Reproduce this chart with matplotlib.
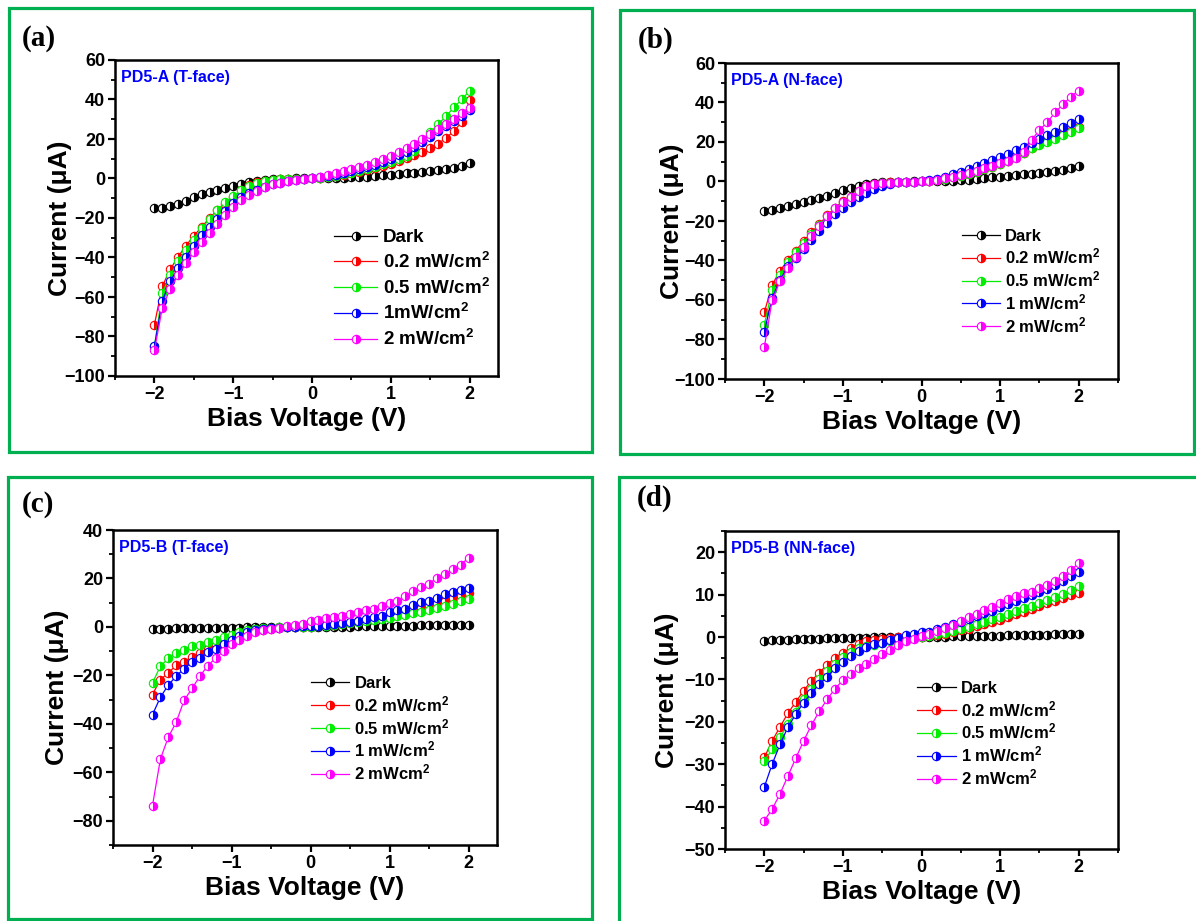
import matplotlib
matplotlib.use("Agg")
import matplotlib.pyplot as plt
from matplotlib.patches import Rectangle
from matplotlib.ticker import MultipleLocator

plt.rcParams['font.family'] = ['Liberation Sans', 'DejaVu Sans']
plt.rcParams['font.weight'] = 'bold'
plt.rcParams['axes.labelweight'] = 'bold'
plt.rcParams['mathtext.fontset'] = 'custom'
plt.rcParams['mathtext.bf'] = 'Liberation Sans:bold'
plt.rcParams['mathtext.rm'] = 'Liberation Sans:bold'
plt.rcParams['mathtext.default'] = 'bf'

# bias voltage sweep (V)
bias = [-2.0, -1.9, -1.8, -1.7, -1.6, -1.5, -1.4, -1.3, -1.2, -1.1, -1.0,
        -0.9, -0.8, -0.7, -0.6, -0.5, -0.4, -0.3, -0.2, -0.1, 0.0,
        0.1, 0.2, 0.3, 0.4, 0.5, 0.6, 0.7, 0.8, 0.9, 1.0,
        1.1, 1.2, 1.3, 1.4, 1.5, 1.6, 1.7, 1.8, 1.9, 2.0]

# (a) PD5-A T-face, current in uA
dark_a = [-15.0, -14.8, -13.9, -12.7, -11.2, -9.5, -8.0, -6.9, -5.9, -4.8, -3.7,
          -2.6, -1.7, -1.1, -0.7, -0.4, -0.2, -0.1, 0.0, 0.0, 0.0,
          0.1, 0.2, 0.3, 0.4, 0.6, 0.8, 1.0, 1.3, 1.6, 2.0,
          2.3, 2.6, 3.0, 3.3, 3.7, 4.1, 4.6, 5.2, 6.3, 7.6]
p02_a = [-74, -54.6, -46, -39.7, -34, -29, -24.5, -20, -16, -12.7, -9.3,
         -6, -3.4, -2, -1.4, -0.8, -0.5, -0.3, -0.2, -0.1, 0,
         0.5, 1, 1.5, 2, 2.6, 3.3, 4.2, 5.2, 6.3, 7.5,
         8.8, 10.2, 11.8, 13.5, 15.3, 17.5, 20.5, 24, 28.5, 39.5]
p05_a = [-85, -58, -49, -42, -36, -31, -25, -20.6, -16, -11.8, -9,
         -6, -3.7, -2.2, -1.3, -0.8, -0.5, -0.3, -0.2, -0.1, 0,
         0.4, 0.9, 1.5, 2.1, 2.8, 3.6, 4.6, 5.7, 7.1, 8.6,
         10, 11.5, 14, 19, 23.5, 27.5, 31.5, 36, 40, 44.5]
p1_a = [-85, -62, -52, -45.5, -39.7, -34, -28.7, -24.5, -20.6, -16.4, -12.3,
        -9.3, -7.3, -5.6, -4.2, -3, -2.2, -1.3, -0.8, -0.3, 0,
        0.6, 1.3, 2, 2.8, 3.7, 4.6, 5.7, 7, 8.4, 10,
        11.8, 13.6, 15.8, 18.3, 21, 23.8, 26.5, 29, 31.8, 34.5]
p2_a = [-87, -65.6, -55.8, -49, -42.8, -37, -32, -27.5, -22.8, -18.6, -14.4,
        -11, -8.5, -6.3, -4.2, -2.9, -2.2, -1.4, -0.8, -0.2, 0.3,
        1, 1.8, 2.7, 3.6, 4.6, 5.8, 7, 8.4, 10, 11.6,
        13.4, 15.3, 17.5, 20, 22.5, 25, 27.5, 30, 33, 35.5]

# (b) PD5-A N-face
dark_b = [-15, -14.3, -13.3, -12.3, -11.3, -10.3, -9.3, -8.2, -7.1, -6, -4.5,
          -3.2, -2.2, -1.4, -0.9, -0.5, -0.3, -0.2, -0.1, 0, 0,
          0.1, 0.2, 0.3, 0.5, 0.7, 1.0, 1.3, 1.7, 2.1, 2.5,
          2.9, 3.3, 3.7, 4.0, 4.4, 4.8, 5.3, 6.0, 7.0, 8.1]
p02_b = [-66.3, -52.3, -45.2, -39.8, -35, -30.2, -25.8, -21.6, -17.2, -13.2, -10,
         -7.6, -5, -2.5, -1.4, -0.8, -0.5, -0.3, -0.2, -0.1, 0,
         0.4, 0.9, 1.5, 2.2, 3, 3.9, 5, 6.2, 7.5, 9,
         10.6, 12.4, 14.5, 17, 19, 20.5, 22, 24, 25.8, 27.5]
p05_b = [-72.6, -54.8, -47.3, -41, -35.8, -31, -26.5, -22, -17.6, -13.6, -10.4,
         -7.8, -5.2, -2.8, -1.6, -1, -0.6, -0.4, -0.2, -0.1, 0,
         0.4, 0.9, 1.5, 2.2, 3, 3.9, 5, 6.2, 7.5, 9,
         10.6, 12.4, 14.4, 16.8, 18.6, 20, 21.6, 23.4, 25.3, 27]
p1_b = [-76, -59, -50, -43, -38.8, -34.3, -29.5, -25.3, -20.8, -16.5, -13.2,
        -10.5, -8.1, -5.9, -3.9, -2.5, -1.4, -0.5, -0.2, -0.1, 0,
        0.7, 1.5, 2.5, 3.6, 4.8, 6.3, 7.8, 9.3, 10.8, 12.3,
        14, 15.8, 17.7, 19.6, 21.3, 23.3, 25.3, 27.5, 29.8, 31.8]
p2_b = [-84, -60, -50.6, -44, -38.3, -33, -27.5, -22.4, -17.7, -13.5, -10.6,
        -7.6, -4.6, -2.5, -1.4, -0.8, -0.6, -0.3, -0.2, -0.1, 0,
        0.5, 1, 1.6, 2.3, 3.2, 4.2, 5.5, 6.8, 8, 9.4,
        10.5, 12, 15, 21, 26, 30, 35, 39, 43, 46]

# (c) PD5-B T-face
dark_c = [-0.8, -0.75, -0.7, -0.65, -0.6, -0.55, -0.5, -0.45, -0.4, -0.35, -0.3,
          -0.25, -0.2, -0.15, -0.1, -0.08, -0.05, -0.03, -0.02, -0.01, 0,
          0.02, 0.05, 0.08, 0.1, 0.15, 0.2, 0.25, 0.3, 0.35, 0.4,
          0.45, 0.5, 0.55, 0.6, 0.65, 0.7, 0.72, 0.75, 0.78, 0.8]
p02_c = [-27.9, -21.7, -19, -15.8, -14.4, -12.5, -10.7, -9.1, -7.3, -5.6, -3.9,
         -2.8, -1.8, -1.4, -1.1, -0.8, -0.4, -0.2, -0.1, 0, 0,
         0.3, 0.6, 1, 1.4, 1.8, 2.3, 2.8, 3.4, 4, 4.7,
         5.4, 6.2, 7, 7.9, 8.8, 9.8, 10.8, 11.8, 12.8, 13.8]
p05_c = [-23.1, -16.2, -13, -10.7, -9.6, -8, -7.3, -6.3, -5.2, -4.3, -3.2,
         -2.2, -1.4, -0.8, -0.5, -0.3, -0.2, -0.1, 0, 0, 0,
         0.2, 0.5, 0.8, 1.1, 1.5, 1.9, 2.3, 2.8, 3.3, 3.8,
         4.4, 5, 5.6, 6.3, 7, 7.8, 8.6, 9.6, 10.6, 11.5]
p1_c = [-36.2, -29, -24, -20.3, -17.2, -14.6, -12.8, -10.5, -9.1, -7, -5.2,
        -3.6, -2.2, -1.4, -0.8, -0.5, -0.3, -0.1, 0, 0.2, 0.3,
        0.5, 1, 1.2, 1.6, 1.9, 2.6, 3.4, 4, 4.7, 6,
        7.1, 7.6, 8.9, 10.4, 10.6, 12, 13.7, 14.3, 15.1, 16]
p2_c = [-73.7, -54.5, -45.5, -39.3, -30.3, -25.4, -20.3, -16, -12.8, -10, -7,
        -5.2, -3.6, -2.2, -1.4, -0.8, -0.4, 0.3, 1.0, 1.2, 2.3,
        3.0, 3.7, 4.1, 4.7, 5.5, 6.0, 7.1, 7.6, 8.5, 9.9,
        10.9, 12.7, 14.7, 16.5, 17.9, 20.2, 21.9, 23.7, 25.7, 28.5]

# (d) PD5-B NN-face
dark_d = [-0.9, -0.8, -0.7, -0.6, -0.55, -0.5, -0.45, -0.4, -0.35, -0.3, -0.25,
          -0.2, -0.2, -0.15, -0.1, -0.1, -0.05, -0.05, 0, 0, 0,
          0.05, 0.1, 0.1, 0.15, 0.2, 0.2, 0.25, 0.3, 0.3, 0.35,
          0.4, 0.4, 0.45, 0.5, 0.5, 0.55, 0.6, 0.65, 0.7, 0.8]
p02_d = [-28.4, -24.5, -21.2, -18, -15.3, -12.7, -10.3, -8.4, -6.5, -4.9, -3.7,
         -2.6, -1.7, -1, -0.6, -0.4, -0.2, 0, 0, 0, 0,
         0.2, 0.5, 0.8, 1.2, 1.6, 2, 2.5, 3, 3.5, 4.1,
         4.8, 5.4, 6, 6.7, 7.4, 8, 8.6, 9.2, 9.8, 10.4]
p05_d = [-29.2, -26.5, -23.7, -20.6, -17.6, -14.7, -12.2, -10, -8, -6.3, -4.7,
         -3.5, -2.7, -2.2, -2, -1.4, -1, -0.6, -0.4, -0.2, 0,
         0.3, 0.6, 1, 1.4, 1.9, 2.4, 3, 3.6, 4.2, 4.8,
         5.5, 6.1, 6.8, 7.4, 8, 8.7, 9.4, 10.2, 11, 12]
p1_d = [-35.4, -30, -25.3, -21.3, -18.2, -15.5, -13.2, -11.1, -9.4, -7.4, -5.9,
        -4.5, -3.3, -2.4, -1.6, -1.4, -0.8, -0.2, 0.4, 0.8, 1.2,
        1.2, 1.8, 2.4, 3, 3.6, 4.3, 5, 5.6, 6.2, 7,
        7.7, 8.5, 9.2, 9.9, 10.6, 11.4, 12.2, 13.2, 14.3, 15.4]
p2_d = [-43.3, -40.6, -37, -32.8, -28.6, -24.5, -20.8, -17.5, -14.7, -12.2, -10.2,
        -8.8, -7.4, -6.3, -5.1, -4.1, -3, -2, -1, -0.4, 0.2,
        0.8, 1.4, 2.2, 2.9, 3.7, 4.7, 5.5, 6.3, 7.1, 8,
        8.9, 9.6, 10.4, 10.7, 11.6, 12.3, 13.3, 14.5, 15.8, 17.4]

cm2 = r'mW/cm$^{2}$'
labels_a = ['Dark', '0.2 ' + cm2, '0.5 ' + cm2, '1' + cm2, '2 ' + cm2]
labels_b = ['Dark', '0.2 ' + cm2, '0.5 ' + cm2, '1 ' + cm2, '2 ' + cm2]
labels_c = ['Dark', '0.2 ' + cm2, '0.5 ' + cm2, '1 ' + cm2, r'2 mWcm$^{2}$']
colors = ['black', '#ff0000', '#00ee00', '#0000ff', '#ff00ff']

W, H = 1196, 921
fig = plt.figure(figsize=(W / 100, H / 100), dpi=100)


def fbox(x0, y0, x1, y1):
    # pixel box (top-left origin) -> figure fraction rect
    return [x0 / W, 1 - y1 / H, (x1 - x0) / W, (y1 - y0) / H]


def panel(rect, series, labels, title, ylim, ymajor, yminor, xlim,
          ylab_x, leg_xy, leg_fs, leg_sp):
    ax = fig.add_axes(fbox(*rect))
    for ys, c, lab in zip(series, colors, labels):
        ax.plot(bias, ys, '-', color=c, lw=0.9, marker='o', ms=6,
                fillstyle='right', markerfacecoloralt='white',
                mec=c, mew=0.8, label=lab)
    ax.set_xlim(*xlim)
    ax.set_ylim(*ylim)
    ax.xaxis.set_major_locator(MultipleLocator(1))
    ax.xaxis.set_minor_locator(MultipleLocator(0.5))
    ax.yaxis.set_major_locator(MultipleLocator(ymajor))
    ax.yaxis.set_minor_locator(MultipleLocator(yminor))
    for s in ax.spines.values():
        s.set_linewidth(1.8)
    ax.tick_params(which='major', direction='out', length=5, width=1.6, labelsize=13, pad=2)
    ax.tick_params(which='minor', direction='out', length=3, width=1.3)
    ax.set_xlabel('Bias Voltage (V)', fontsize=19, labelpad=3)
    ax.set_ylabel('Current (\u03bcA)', fontsize=19, va='center')
    # label centre sits at a fixed pixel distance left of the spine
    ax.yaxis.set_label_coords((ylab_x - rect[0]) / (rect[2] - rect[0]), 0.5)
    ax.text(0.015, 0.968, title, transform=ax.transAxes, color='#0000ff',
            fontsize=11.5, fontweight='bold', ha='left', va='top')
    ax.legend(loc='upper left', bbox_to_anchor=leg_xy, frameon=False,
              fontsize=leg_fs, handlelength=2.3, handletextpad=0.3,
              labelspacing=leg_sp, borderpad=0, borderaxespad=0)
    return ax


panel((115, 60, 498, 376), [dark_a, p02_a, p05_a, p1_a, p2_a], labels_a,
      'PD5-A (T-face)', (-100, 60), 20, 10, (-2.5, 2.36), 60,
      (0.572, 0.465), 13.5, 0.3)
panel((725, 63, 1118, 379), [dark_b, p02_b, p05_b, p1_b, p2_b], labels_b,
      'PD5-A (N-face)', (-100, 60), 20, 10, (-2.5, 2.5), 672,
      (0.603, 0.476), 12, 0.18)
panel((113, 530, 497, 845), [dark_c, p02_c, p05_c, p1_c, p2_c], labels_c,
      'PD5-B (T-face)', (-90, 40), 20, 10, (-2.5, 2.36), 57,
      (0.516, 0.536), 12, 0.18)
panel((725, 531, 1118, 849), [dark_d, p02_d, p05_d, p1_d, p2_d], labels_c,
      'PD5-B (NN-face)', (-50, 25), 10, 5, (-2.5, 2.5), 667,
      (0.489, 0.528), 12, 0.18)

# green frames around each panel
green = '#00b050'
for x0, y0, x1, y1 in [(9, 8, 592, 452), (620, 10, 1194, 454),
                       (8, 477, 592, 919), (619, 477, 1210, 935)]:
    fig.patches.append(Rectangle((x0 / W, 1 - y1 / H), (x1 - x0) / W, (y1 - y0) / H,
                                 transform=fig.transFigure, fill=False,
                                 edgecolor=green, lw=2.3, clip_on=False))

for lab, x, y in [('(a)', 22, 38), ('(b)', 638, 40), ('(c)', 22, 505), ('(d)', 637, 498)]:
    fig.text(x / W, 1 - y / H, lab, fontsize=21, fontweight='bold',
             family=['Liberation Serif', 'DejaVu Serif'], ha='left', va='center')

fig.savefig('out.png', dpi=100)
